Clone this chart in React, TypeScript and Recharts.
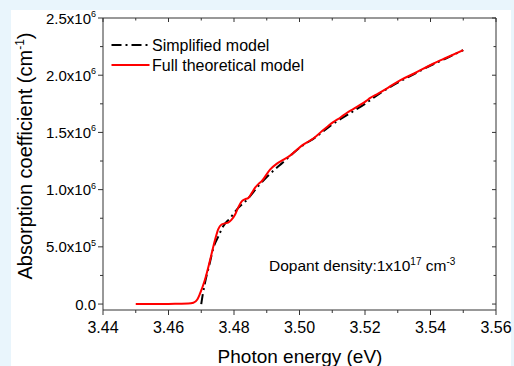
import React from 'react';
import { LineChart, Line, XAxis, YAxis, Customized } from 'recharts';

// Full theoretical model: photon energy (eV) and absorption coefficient (cm^-1)
const FULL_E = [
  3.450, 3.455, 3.460, 3.463, 3.466, 3.4676, 3.4688, 3.4696, 3.4711, 3.4727,
  3.4742, 3.4752, 3.4762, 3.4772, 3.4782, 3.4792, 3.4803, 3.4813, 3.4823, 3.4833,
  3.4844, 3.4854, 3.4864, 3.4875, 3.4885, 3.491, 3.493, 3.495, 3.497, 3.4985,
  3.5007, 3.503, 3.505, 3.5068, 3.5085, 3.5103, 3.5125, 3.5144, 3.5165, 3.5185,
  3.5205, 3.5215, 3.524, 3.527, 3.5307, 3.535, 3.5408, 3.545, 3.550,
];
const FULL_ALPHA = [
  0, 0, 1000, 3000, 5000, 12000, 40000, 90000, 210000, 385000,
  560000, 655000, 695000, 705000, 712000, 735000, 780000, 845000, 895000, 915000,
  928000, 970000, 1015000, 1050000, 1075000, 1175000, 1225000, 1260000, 1295000, 1330000,
  1385000, 1425000, 1465000, 1510000, 1550000, 1590000, 1630000, 1670000, 1705000, 1740000,
  1778000, 1800000, 1840000, 1890000, 1955000, 2015000, 2100000, 2155000, 2220000,
];

// Simplified model
const SIMPLE_E = [
  3.4700, 3.4705, 3.4711, 3.4727, 3.4737, 3.4752, 3.4767, 3.4788, 3.4813, 3.4839,
  3.4874, 3.490, 3.495, 3.500, 3.505, 3.510, 3.515, 3.520, 3.525, 3.530,
  3.535, 3.540, 3.545, 3.550,
];
const SIMPLE_ALPHA = [
  0, 90000, 180000, 370000, 490000, 590000, 680000, 750000, 840000, 910000,
  1030000, 1110000, 1240000, 1365000, 1460000, 1570000, 1660000, 1750000, 1850000, 1935000,
  2010000, 2085000, 2150000, 2220000,
];

const X_TICKS = [3.44, 3.45, 3.46, 3.47, 3.48, 3.49, 3.50, 3.51, 3.52, 3.53, 3.54, 3.55, 3.56];
const X_MAJOR_TICKS = [3.44, 3.46, 3.48, 3.50, 3.52, 3.54, 3.56];
const X_MAJOR_LABELS = ['3.44', '3.46', '3.48', '3.50', '3.52', '3.54', '3.56'];

const Y_TICKS = [0, 250000, 500000, 750000, 1000000, 1250000, 1500000, 1750000, 2000000, 2250000, 2500000];
const Y_MAJOR_TICKS = [0, 500000, 1000000, 1500000, 2000000, 2500000];
const Y_MAJOR_MANTISSA = ['0.0', '5.0x10', '1.0x10', '1.5x10', '2.0x10', '2.5x10'];
const Y_MAJOR_EXP = ['', '5', '6', '6', '6', '6'];

const SERIES_NAMES = ['Simplified model', 'Full theoretical model'];

const FONT = '"Liberation Sans", Arial, sans-serif';
const AXIS_COLOR = '#333333';

const fullData = FULL_E.map((e, i) => ({ e, a: FULL_ALPHA[i] }));
const simpleData = SIMPLE_E.map((e, i) => ({ e, a: SIMPLE_ALPHA[i] }));

const majorIndex = (arr: number[], v: number) => arr.findIndex((m) => Math.abs(m - v) < 1e-6);

const BottomTick = (props: any) => {
  const { x, y, payload } = props;
  const idx = majorIndex(X_MAJOR_TICKS, payload.value);
  const major = idx >= 0;
  return (
    <g>
      <line x1={x} x2={x} y1={y} y2={y + (major ? 5 : 3)} stroke={AXIS_COLOR} strokeWidth={1} />
      {major && (
        <text x={x} y={y + 23} textAnchor="middle" fontSize={16} fontFamily={FONT} fill="#000">
          {X_MAJOR_LABELS[idx]}
        </text>
      )}
    </g>
  );
};

const TopTick = (props: any) => {
  const { x, y, payload } = props;
  const major = majorIndex(X_MAJOR_TICKS, payload.value) >= 0;
  return <line x1={x} x2={x} y1={y} y2={y + (major ? 4 : 2.5)} stroke={AXIS_COLOR} strokeWidth={1} />;
};

const LeftTick = (props: any) => {
  const { x, y, payload } = props;
  const idx = majorIndex(Y_MAJOR_TICKS, payload.value);
  const major = idx >= 0;
  return (
    <g>
      <line x1={x} x2={x - (major ? 5 : 3)} y1={y} y2={y} stroke={AXIS_COLOR} strokeWidth={1} />
      {major && (
        <text x={x - 7} y={y + 5.5} textAnchor="end" fontSize={15} fontFamily={FONT} fill="#000">
          <tspan>{Y_MAJOR_MANTISSA[idx]}</tspan>
          {Y_MAJOR_EXP[idx] && (
            <tspan dy={-6.5} fontSize={9}>
              {Y_MAJOR_EXP[idx]}
            </tspan>
          )}
        </text>
      )}
    </g>
  );
};

const RightTick = (props: any) => {
  const { x, y, payload } = props;
  const major = majorIndex(Y_MAJOR_TICKS, payload.value) >= 0;
  return <line x1={x} x2={x - (major ? 4 : 2.5)} y1={y} y2={y} stroke={AXIS_COLOR} strokeWidth={1} />;
};

const Decorations = () => (
  <g fontFamily={FONT} fill="#000">
    {/* legend */}
    <line x1={111.5} x2={149.5} y1={45} y2={45} stroke="#000" strokeWidth={2} strokeDasharray="10 4 2 4" />
    <text x={152} y={50.5} fontSize={16}>{SERIES_NAMES[0]}</text>
    <line x1={111.5} x2={149.5} y1={65} y2={65} stroke="#ff0000" strokeWidth={2} />
    <text x={152} y={70.5} fontSize={16}>{SERIES_NAMES[1]}</text>
    {/* annotation */}
    <text x={269} y={271} fontSize={15.5}>
      <tspan>Dopant density:1x10</tspan>
      <tspan dy={-6} fontSize={10}>17</tspan>
      <tspan dy={6}> cm</tspan>
      <tspan dy={-6} fontSize={10}>-3</tspan>
    </text>
    {/* axis titles */}
    <text x={300} y={363} fontSize={19} textAnchor="middle">Photon energy (eV)</text>
    <text transform="translate(32,156) rotate(-90)" x={0} y={0} fontSize={20} textAnchor="middle">
      <tspan>Absorption coefficient (cm</tspan>
      <tspan dy={-8} fontSize={12}>-1</tspan>
      <tspan dy={8}>)</tspan>
    </text>
  </g>
);

export default function App() {
  return (
    <div style={{ position: 'absolute', left: 0, top: 0, width: 514, height: 366, background: '#e9f5fc', overflow: 'hidden' }}>
      <div style={{ position: 'absolute', left: 11, top: 10, width: 500, height: 356, background: '#ffffff' }} />
      <div style={{ position: 'absolute', left: 0, top: 0 }}>
        <LineChart width={514} height={366} margin={{ top: 17, right: 17, bottom: 0, left: 0 }}>
          <XAxis
            xAxisId={0}
            dataKey="e"
            type="number"
            domain={[3.44, 3.56]}
            ticks={X_TICKS}
            interval={0}
            allowDataOverflow
            height={56}
            tickSize={0}
            tickMargin={0}
            tickLine={false}
            axisLine={{ stroke: AXIS_COLOR, strokeWidth: 1 }}
            tick={<BottomTick />}
          />
          <XAxis
            xAxisId="top"
            orientation="top"
            dataKey="e"
            type="number"
            domain={[3.44, 3.56]}
            ticks={X_TICKS}
            interval={0}
            allowDataOverflow
            height={1}
            tickSize={0}
            tickMargin={0}
            tickLine={false}
            axisLine={{ stroke: AXIS_COLOR, strokeWidth: 1 }}
            tick={<TopTick />}
          />
          <YAxis
            yAxisId={0}
            type="number"
            domain={[-52000, 2500000]}
            ticks={Y_TICKS}
            interval={0}
            allowDataOverflow
            width={103}
            tickSize={0}
            tickMargin={0}
            tickLine={false}
            axisLine={{ stroke: AXIS_COLOR, strokeWidth: 1 }}
            tick={<LeftTick />}
          />
          <YAxis
            yAxisId="right"
            orientation="right"
            type="number"
            domain={[-52000, 2500000]}
            ticks={Y_TICKS}
            interval={0}
            allowDataOverflow
            width={1}
            tickSize={0}
            tickMargin={0}
            tickLine={false}
            axisLine={{ stroke: AXIS_COLOR, strokeWidth: 1 }}
            tick={<RightTick />}
          />
          {/* invisible copy bound to the top/right axes so the frame axes render */}
          <Line
            data={fullData}
            dataKey="a"
            xAxisId="top"
            yAxisId="right"
            stroke="none"
            strokeWidth={0}
            dot={false}
            activeDot={false}
            legendType="none"
            isAnimationActive={false}
          />
          <Line
            data={simpleData}
            dataKey="a"
            name={SERIES_NAMES[0]}
            type="monotone"
            stroke="#000000"
            strokeWidth={2}
            strokeDasharray="10 4 2 4"
            dot={false}
            activeDot={false}
            isAnimationActive={false}
          />
          <Line
            data={fullData}
            dataKey="a"
            name={SERIES_NAMES[1]}
            type="monotone"
            stroke="#ff0000"
            strokeWidth={2}
            dot={false}
            activeDot={false}
            isAnimationActive={false}
          />
          <Customized component={<Decorations />} />
        </LineChart>
      </div>
    </div>
  );
}
